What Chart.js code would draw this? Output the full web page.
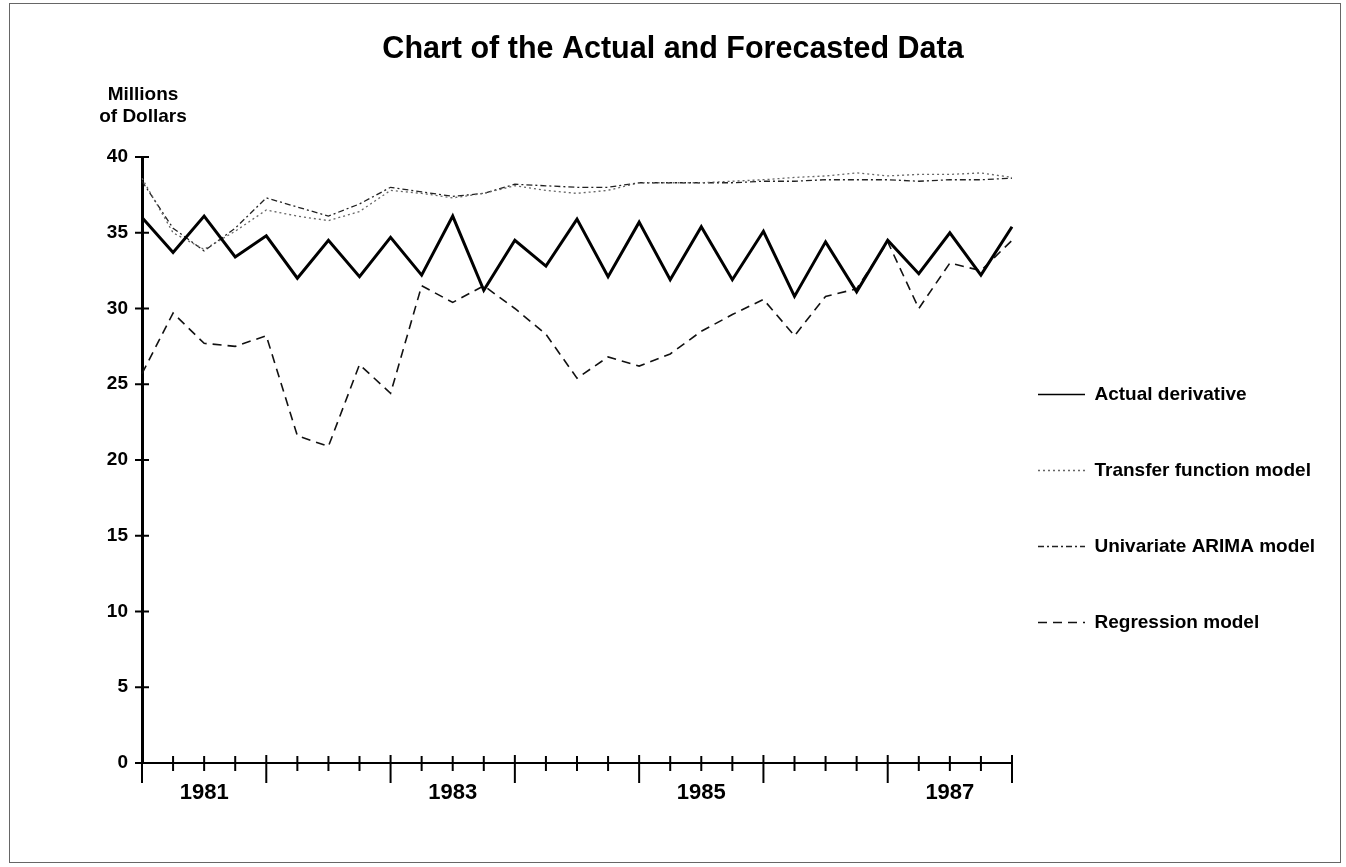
<!DOCTYPE html>
<html>
<head>
<meta charset="utf-8">
<script src="https://cdn.jsdelivr.net/npm/chart.js@4.4.1/dist/chart.umd.min.js"></script>
<style>
  html, body { margin: 0; padding: 0; background: #fff; }
  #wrap { position: relative; width: 1346px; height: 867px; }
  canvas { display: block; }
</style>
</head>
<body>
<div id="wrap"><canvas id="chart" width="1346" height="867"></canvas></div>
<script>
// Quarterly periods, 1981 Q1 through 1988 Q1
const quarters = [
  '1981 Q1', '1981 Q2', '1981 Q3', '1981 Q4',
  '1982 Q1', '1982 Q2', '1982 Q3', '1982 Q4',
  '1983 Q1', '1983 Q2', '1983 Q3', '1983 Q4',
  '1984 Q1', '1984 Q2', '1984 Q3', '1984 Q4',
  '1985 Q1', '1985 Q2', '1985 Q3', '1985 Q4',
  '1986 Q1', '1986 Q2', '1986 Q3', '1986 Q4',
  '1987 Q1', '1987 Q2', '1987 Q3', '1987 Q4',
  '1988 Q1'
];

// Year captions shown under the axis (one per two years)
const xTickLabels = [
  '', '', '1981', '', '', '', '', '', '', '', '1983', '', '', '', '', '', '',
  '', '1985', '', '', '', '', '', '', '', '1987', '', ''
];

// Millions of dollars
const actualDerivative = [
  36.0, 33.7, 36.1, 33.4, 34.8, 32.0, 34.5, 32.1, 34.7, 32.2,
  36.1, 31.2, 34.5, 32.8, 35.9, 32.1, 35.7, 31.9, 35.4, 31.9,
  35.1, 30.8, 34.4, 31.1, 34.5, 32.3, 35.0, 32.2, 35.4
];

const transferFunction = [
  38.6, 35.0, 33.9, 35.1, 36.5, 36.1, 35.8, 36.4, 37.8, 37.6,
  37.3, 37.6, 38.1, 37.8, 37.6, 37.8, 38.3, 38.3, 38.3, 38.4,
  38.5, 38.65, 38.75, 38.95, 38.75, 38.85, 38.85, 38.95, 38.65
];

const univariateArima = [
  38.4, 35.3, 33.8, 35.3, 37.3, 36.7, 36.1, 36.9, 38.0, 37.7,
  37.4, 37.6, 38.2, 38.1, 38.0, 38.0, 38.3, 38.3, 38.3, 38.3,
  38.4, 38.4, 38.5, 38.5, 38.5, 38.4, 38.5, 38.5, 38.6
];

const regressionModel = [
  25.7, 29.7, 27.7, 27.5, 28.2, 21.6, 20.9, 26.3, 24.4, 31.5,
  30.4, 31.5, 30.0, 28.3, 25.4, 26.8, 26.2, 27.0, 28.5, 29.6,
  30.6, 28.2, 30.8, 31.3, 34.4, 30.0, 33.0, 32.5, 34.5
];

const seriesNames = [
  'Actual derivative',
  'Transfer function model',
  'Univariate ARIMA model',
  'Regression model'
];

const FONT = '"Liberation Sans", Arial, Helvetica, sans-serif';
Chart.defaults.font.family = FONT;
Chart.defaults.color = '#000';

// Tick marks that cross both axes; year boundaries get a longer mark
const crossTicks = {
  id: 'crossTicks',
  afterDraw(chart) {
    const { ctx, scales: { x, y } } = chart;
    const y0 = y.getPixelForValue(0);
    const x0 = chart.chartArea.left;
    ctx.save();
    ctx.strokeStyle = '#000';
    ctx.lineWidth = 2;
    x.ticks.forEach((t, i) => {
      const px = x.getPixelForTick(i);
      const yearEdge = i % 4 === 0;
      ctx.beginPath();
      ctx.moveTo(px, y0 - (yearEdge ? 8 : 7));
      ctx.lineTo(px, y0 + (yearEdge ? 20 : 8));
      ctx.stroke();
    });
    y.ticks.forEach((t, i) => {
      const py = y.getPixelForTick(i);
      ctx.beginPath();
      ctx.moveTo(x0 - 7, py);
      ctx.lineTo(x0 + 7, py);
      ctx.stroke();
    });
    ctx.restore();
  }
};

// Unit caption stacked above the value axis, plus the outer frame
const axisCaption = {
  id: 'axisCaption',
  afterDraw(chart) {
    const { ctx, chartArea } = chart;
    ctx.save();
    ctx.fillStyle = '#000';
    ctx.font = 'bold 19px ' + FONT;
    ctx.textAlign = 'center';
    ctx.textBaseline = 'middle';
    const cx = chartArea.left + 1;
    ctx.fillText('Millions', cx, chartArea.top - 62);
    ctx.fillText('of Dollars', cx, chartArea.top - 40);
    ctx.strokeStyle = '#666';
    ctx.lineWidth = 1;
    ctx.strokeRect(9.5, 3.5, 1331, 859);
    ctx.restore();
  }
};

// Move the legend column next to the plot, level with its middle
const legendPlacement = {
  id: 'legendPlacement',
  afterLayout(chart) {
    const lg = chart.legend;
    const dx = -31;
    const dy = 171;
    lg.left += dx;
    lg.right += dx;
    lg.top += dy;
    lg.bottom += dy;
  }
};

new Chart(document.getElementById('chart'), {
  type: 'line',
  data: {
    labels: quarters,
    datasets: [
      {
        label: seriesNames[0],
        data: actualDerivative,
        borderColor: '#000',
        borderWidth: 3,
        borderJoinStyle: 'miter',
        pointRadius: 0,
        tension: 0
      },
      {
        label: seriesNames[1],
        data: transferFunction,
        borderColor: '#666',
        borderWidth: 1.3,
        borderDash: [2, 3],
        pointRadius: 0,
        tension: 0
      },
      {
        label: seriesNames[2],
        data: univariateArima,
        borderColor: '#222',
        borderWidth: 1.3,
        borderDash: [6, 3, 2, 3],
        pointRadius: 0,
        tension: 0
      },
      {
        label: seriesNames[3],
        data: regressionModel,
        borderColor: '#111',
        borderWidth: 1.6,
        borderDash: [9, 6],
        pointRadius: 0,
        tension: 0
      }
    ]
  },
  options: {
    responsive: false,
    animation: false,
    events: [],
    layout: { padding: { left: 0, right: 0, top: 0, bottom: 0 } },
    plugins: {
      title: {
        display: true,
        text: 'Chart of the Actual and Forecasted Data',
        color: '#000',
        font: { family: FONT, size: 30.5, weight: 'bold' },
        padding: { top: 31, bottom: 89.4 }
      },
      legend: {
        position: 'right',
        align: 'start',
        fullSize: false,
        maxWidth: 334,
        labels: {
          usePointStyle: true,
          pointStyle: 'line',
          pointStyleWidth: 47,
          boxHeight: 10,
          padding: 57,
          color: '#000',
          font: { family: FONT, size: 19, weight: 'bold' },
          generateLabels(chart) {
            return chart.data.datasets.map((ds, i) => ({
              text: ds.label,
              fillStyle: 'rgba(0,0,0,0)',
              strokeStyle: ds.borderColor,
              lineWidth: Math.min(ds.borderWidth, 1.5),
              lineDash: ds.borderDash || [],
              pointStyle: 'line',
              fontColor: '#000',
              hidden: false,
              datasetIndex: i
            }));
          }
        }
      },
      tooltip: { enabled: false }
    },
    scales: {
      x: {
        type: 'category',
        offset: false,
        grid: { display: false, drawTicks: false },
        border: { display: true, color: '#000', width: 2 },
        ticks: {
          autoSkip: false,
          maxRotation: 0,
          minRotation: 0,
          padding: 17,
          color: '#000',
          font: { family: FONT, size: 22, weight: 'bold' },
          callback: (value, index) => xTickLabels[index]
        },
        afterFit(scale) { scale.height = 104; }
      },
      y: {
        min: 0,
        max: 40,
        grid: { display: false, drawTicks: false },
        border: { display: true, color: '#000', width: 3 },
        ticks: {
          stepSize: 5,
          padding: 14,
          color: '#000',
          font: { family: FONT, size: 19, weight: 'bold' }
        },
        afterFit(scale) { scale.width = 142; }
      }
    }
  },
  plugins: [crossTicks, axisCaption, legendPlacement]
});
</script>
</body>
</html>
